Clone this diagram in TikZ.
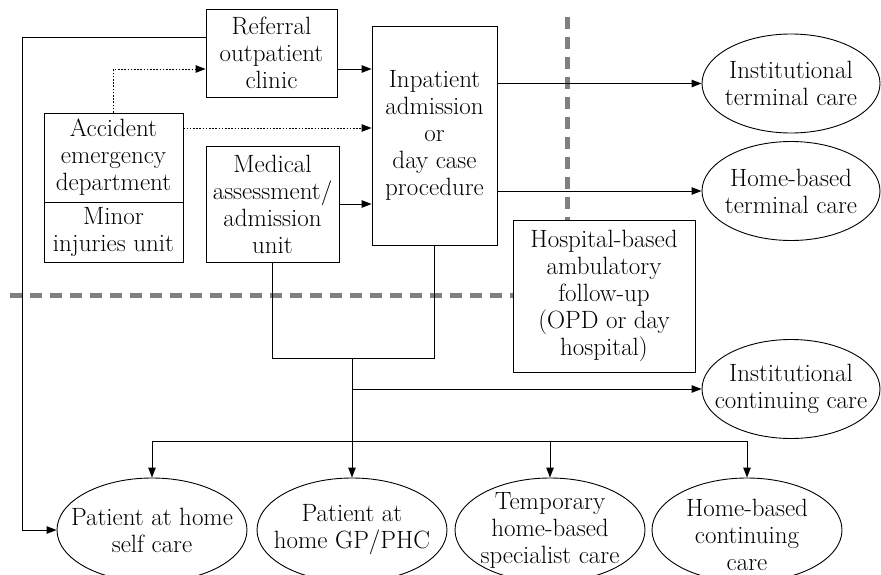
\documentclass[tikz,border=0pt]{standalone}
\usetikzlibrary{arrows.meta,shapes.geometric,calc}
\begin{document}
\begin{tikzpicture}[x=1pt,y=-1pt,
  font=\fontsize{25}{27}\selectfont,
  line width=0.9pt,
  box/.style={draw,rectangle,inner sep=0pt,align=center},
  oval/.style={draw,ellipse,inner sep=0pt,minimum width=178pt,minimum height=99pt},
  boval/.style={draw,ellipse,inner sep=0pt,minimum width=190pt,minimum height=104pt},
  otext/.style={align=center,inner sep=0pt},
  arr/.style={-{Triangle[length=10pt,width=7.5pt]}},
  dots/.style={dash pattern=on 1.6pt off 1.6pt},
  sep/.style={draw=gray,line width=5pt,dash pattern=on 12pt off 8pt}
]
\useasboundingbox (0,0) rectangle (881,575);
\clip (0,0) rectangle (881,575);

% separators
\coordinate (vd) at (567,17);
\coordinate (hd) at (10,295);

% boxes
\node[box,minimum width=131pt,minimum height=88pt] (ref) at (271.5,53) {Referral\\outpatient\\clinic};
\node[box,minimum width=125pt,minimum height=219pt] (inp) at (434.5,135.5) {Inpatient\\admission\\or\\day case\\procedure};
\node[box,minimum width=139pt,minimum height=89pt] (ae) at (113.5,157.5) {Accident\\emergency\\department};
\node[box,minimum width=139pt,minimum height=60pt] (minor) at (113.5,232) {Minor\\injuries unit};
\node[box,minimum width=133pt,minimum height=116pt] (med) at (272.5,204) {Medical\\assessment/\\admission\\unit};
\node[box,minimum width=182pt,minimum height=152pt] (hosp) at (604,296) {Hospital-based\\ambulatory\\follow-up\\(OPD or day\\hospital)};

\draw[sep] (vd) -- (vd |- hosp.north);
\draw[sep] (hd) -- (hd -| hosp.west);

% ellipses
\node[oval] (it) at (791,83.5) {};
\node[otext] at (it.center) {Institutional\\terminal care};
\node[oval] (ht) at (791,191) {};
\node[otext] at (ht.center) {Home-based\\terminal care};
\node[oval] (ic) at (791,389) {};
\node[otext] at (ic.center) {Institutional\\continuing care};
\node[boval] (sc) at (152,530) {};
\node[otext] at (sc.center) {Patient at home\\self care};
\node[boval] (gp) at (352,530) {};
\node[otext] at (gp.center) {Patient at\\home GP/PHC};
\node[boval] (tmp) at (550,530) {};
\node[otext] at (tmp.center) {Temporary\\home-based\\specialist care};
\node[boval] (hc) at (747,530) {};
\node[otext] at ([yshift=-5pt]hc.center) {Home-based\\continuing\\care};

% connectors
\draw[arr] ([yshift=16pt]ref.west) -| ([xshift=-34pt]sc.west) -- (sc.west);
\draw[arr,dots] (ae.north) |- ([yshift=-16pt]ref.west);
\draw[arr,dots] ([yshift=29.5pt]ae.east) coordinate (a1) -- (a1 -| inp.west);
\draw[arr] ([yshift=-16pt]ref.east) coordinate (a2) -- (a2 -| inp.west);
\draw[arr] (med.east) -- (med.east -| inp.west);
\draw[arr] (inp.east |- it.west) -- (it.west);
\draw[arr] (inp.east |- ht.west) -- (ht.west);

\coordinate (jt) at (352,358);
\coordinate (bus) at (352,441);
\draw (med.south) -- (med.south |- jt) -- (inp.south |- jt) -- (inp.south);
\draw[arr] (jt) -- (gp.north);
\draw[arr] (jt |- ic.west) -- (ic.west);
\draw (sc.north |- bus) -- (hc.north |- bus);
\draw[arr] (sc.north |- bus) -- (sc.north);
\draw[arr] (tmp.north |- bus) -- (tmp.north);
\draw[arr] (hc.north |- bus) -- (hc.north);
\end{tikzpicture}
\end{document}
